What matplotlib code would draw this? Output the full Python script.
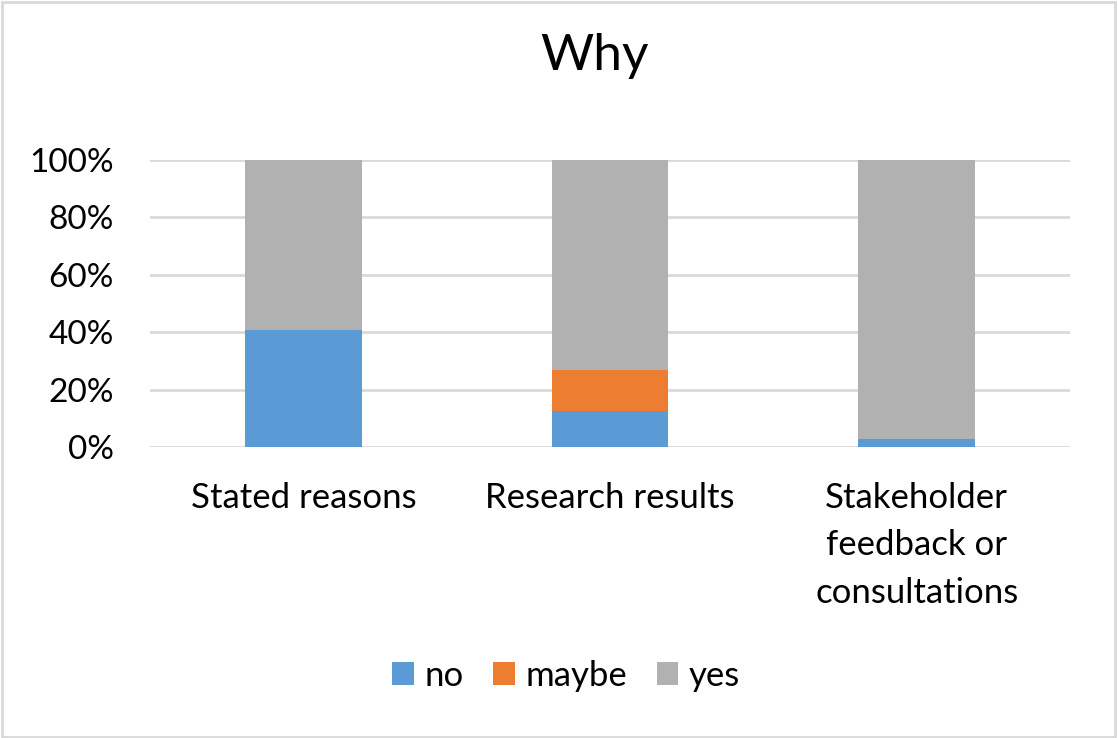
import matplotlib
matplotlib.use("Agg")
import matplotlib.pyplot as plt
from matplotlib.patches import Rectangle
from matplotlib.ticker import PercentFormatter

plt.rcParams['font.family'] = ['Lato', 'DejaVu Sans']

categories = ["Stated reasons", "Research results", "Stakeholder\nfeedback or\nconsultations"]
no_share = [40.7, 12.5, 2.8]
maybe_share = [0.0, 14.3, 0.0]
yes_share = [59.3, 73.2, 97.2]
series_names = ["no", "maybe", "yes"]
colors = ["#5B9BD5", "#ED7D31", "#B1B1B2"]

fig = plt.figure(figsize=(11.18, 7.38), dpi=100)
ax = fig.add_axes([150 / 1118, 291 / 738, 920 / 1118, 287.5 / 738])

x = list(range(len(categories)))
bottom = [0.0] * len(categories)
handles = []
for name, vals, col in zip(series_names, [no_share, maybe_share, yes_share], colors):
    h = ax.bar(x, vals, width=0.38, bottom=bottom, color=col, label=name, zorder=3)
    handles.append(h)
    bottom = [b + v for b, v in zip(bottom, vals)]

ax.set_xlim(-0.5, 2.5)
ax.set_ylim(0, 100)
ax.set_yticks([0, 20, 40, 60, 80, 100])
ax.yaxis.set_major_formatter(PercentFormatter(decimals=0))
ax.grid(axis='y', color='#D9D9D9', linewidth=2.0, zorder=0)
for s in ax.spines.values():
    s.set_visible(False)
ax.set_xticks(x)
ax.set_xticklabels(categories, fontsize=25, linespacing=1.6)
ax.tick_params(axis='y', length=0, pad=26, labelsize=24)
ax.tick_params(axis='x', length=0, pad=25)

fig.text(594 / 1118, (738 - 70) / 738, "Why", fontsize=37, ha='center', va='baseline')

fig.legend(handles=handles, labels=series_names, loc='center', ncol=3,
           bbox_to_anchor=(566 / 1118, (738 - 676) / 738), frameon=False,
           fontsize=25, handlelength=0.63, handleheight=0.63,
           handletextpad=0.3, columnspacing=0.85)

fig.patches.append(Rectangle((0.0015, 0.002), 0.996, 0.995, transform=fig.transFigure,
                             fill=False, edgecolor='#D9D9D9', linewidth=2.0))

fig.savefig("out.png", dpi=100, facecolor='white')
